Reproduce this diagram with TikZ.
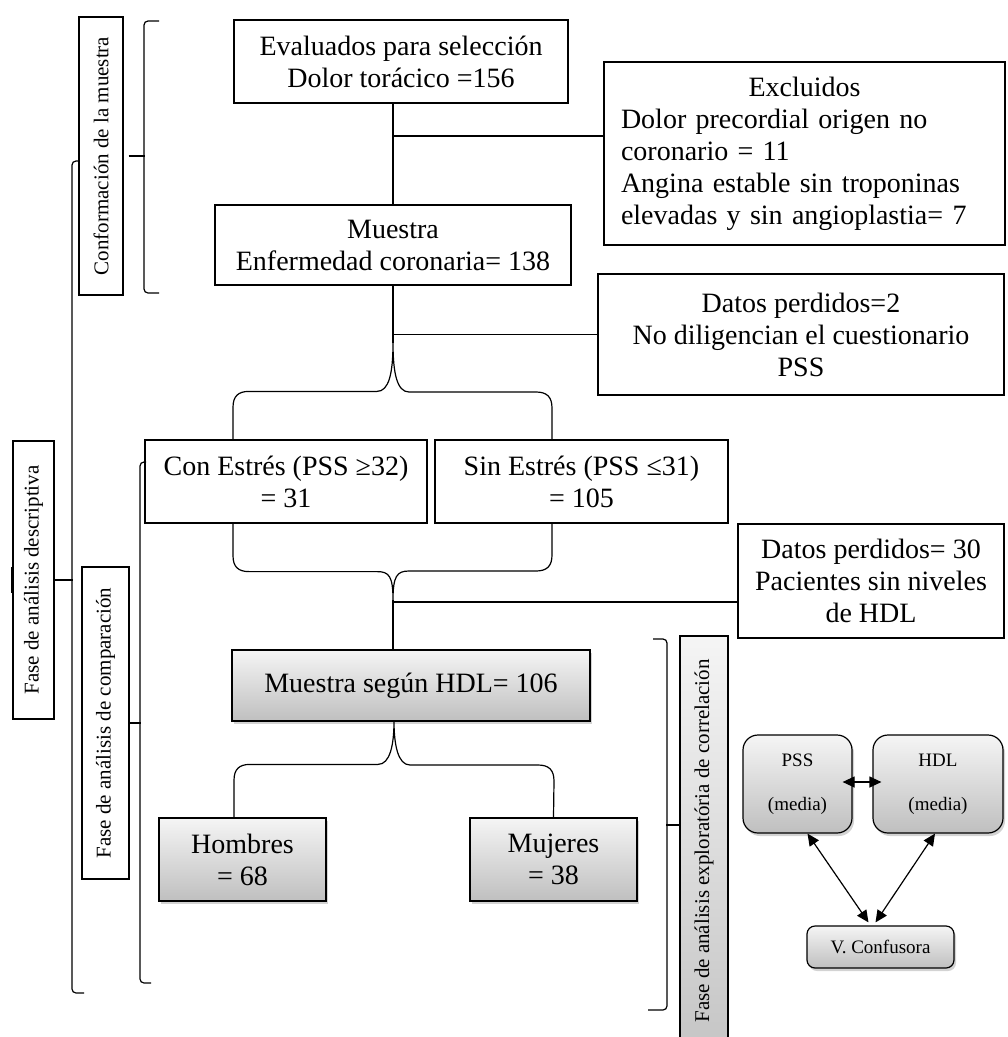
\documentclass[tikz,border=0pt]{standalone}
\usepackage{fontspec}
\setmainfont{Liberation Serif}
\usetikzlibrary{arrows.meta,shadows}

\begin{document}
\begin{tikzpicture}[
  x=1pt, y=-1pt,
  line width=1.2pt,
  >={Triangle[width=11pt,length=12pt]},
  box/.style={draw, align=center, minimum height=83pt, font=\fontsize{28}{32}\selectfont},
  grbox/.style={box, top color=gray!8, bottom color=gray!50,
    drop shadow={shadow xshift=2pt, shadow yshift=-3pt, opacity=0.35}},
  side/.style={draw, rotate=90, font=\fontsize{21}{24}\selectfont},
  rbox/.style={draw, align=center, rounded corners=15pt, top color=gray!8, bottom color=gray!50,
    drop shadow={shadow xshift=2pt, shadow yshift=-3pt, opacity=0.35},
    font=\fontsize{19}{44}\selectfont}
]
\useasboundingbox (0,0) rectangle (1008,1037);

% flow boxes
\node[box, minimum width=334pt] (eval) at (401,61.5) {Evaluados para selección\\Dolor torácico =156};
\node[box, text width=367pt, align=left, inner xsep=17pt, minimum height=183pt] (excl) at (804.5,153.5)
  {\makebox[367pt]{Excluidos}\\Dolor precordial origen no\\coronario = 11\\Angina estable sin troponinas\\elevadas y sin angioplastia= 7};
\node[box, minimum width=356pt, minimum height=80pt] (muestra) at (393,245) {Muestra\\Enfermedad coronaria= 138};
\node[box, minimum width=406pt, minimum height=121pt] (dat2) at (801,334.5) {Datos perdidos=2\\No diligencian el cuestionario\\PSS};
\node[box, minimum width=282pt] (con) at (286,481.5) {Con Estrés (PSS ≥32)\\= 31};
\node[box, minimum width=293pt] (sin) at (581.5,481.5) {Sin Estrés (PSS ≤31)\\= 105};
\node[box, minimum width=266pt, minimum height=114pt] (dat30) at (871,581) {Datos perdidos= 30\\Pacientes sin niveles\\de HDL};
\node[grbox, minimum width=358pt, minimum height=71pt] (hdl) at (411,685.5) {Muestra según HDL= 106};
\node[grbox, minimum width=167pt] (hom) at (242.5,859.5) {Hombres\\= 68};
\node[grbox, minimum width=167pt] (muj) at (553.5,859.5) {Mujeres\\= 38};

% phase labels
\node[side, minimum width=278pt, minimum height=44pt] (conf) at (101,156) {Conformación de la muestra};
\node[side, minimum width=278pt, minimum height=41pt] (desc) at (33.5,580) {Fase de análisis descriptiva};
\node[side, minimum width=312pt, minimum height=47pt] (comp) at (105.5,723) {Fase de análisis de comparación};
\node[side, top color=gray!8, bottom color=gray!45, minimum width=410pt, minimum height=48pt] (corr) at (704,841)
  {Fase de análisis exploratória de correlación};

% correlation model
\node[rbox, minimum width=109pt, minimum height=98pt] (pss) at (797.5,784) {PSS\\(media)};
\node[rbox, minimum width=130pt, minimum height=98pt] (hdlm) at (938,784) {HDL\\(media)};
\node[rbox, rounded corners=8pt, minimum width=147pt, minimum height=42pt, font=\fontsize{19}{22}\selectfont] (vconf) at (880.5,947) {V. Confusora};

% connectors
\coordinate (j1) at (393,136);
\coordinate (c1) at (393,343);
\coordinate (c2) at (393,600);
\coordinate (j3) at (393,602);
\coordinate (c3) at (394,721);

\draw (eval.south -| muestra.north) -- (muestra.north);
\draw (j1) -- (j1 -| excl.west);
\draw (muestra.south) -- (c1);
\draw (muestra.south |- dat2.west) -- (dat2.west);
\draw ([xshift=-53pt]con.north) -- ++(0,-32) .. controls +(0,-11) and +(-11,0) .. ++(16,-16) -- ++(128,0)
  .. controls +(12,0) and +(0,30) .. (c1) .. controls +(0,30) and +(-12,0) .. ++(16,49) -- ++(127,0)
  .. controls +(11,0) and +(0,-11) .. ++(16,16) -- ([xshift=-29.5pt]sin.north);
\draw ([xshift=-53pt]con.south) -- ++(0,32) .. controls +(0,11) and +(-11,0) .. ++(16,16) -- ++(128,0)
  .. controls +(12,0) and +(0,-24) .. (c2) .. controls +(0,-24) and +(-12,0) .. ++(16,-29) -- ++(127,0)
  .. controls +(11,0) and +(0,11) .. ++(16,-16) -- ([xshift=-29.5pt]sin.south);
\draw (c2) -- (c2 |- hdl.north);
\draw (j3) -- (j3 -| dat30.west);
\draw ([xshift=-8.5pt]hom.north) -- ++(0,-37) .. controls +(0,-11) and +(-11,0) .. ++(16,-16) -- ++(128,0)
  .. controls +(12,0) and +(0,24) .. (c3) .. controls +(0,24) and +(-12,0) .. ++(16,44) -- ++(128,0)
  .. controls +(11,0) and +(0,-11) .. ++(16,16) -- (muj.north);

% brackets
\draw[rounded corners=4pt] (159,21) -- (144,21) -- (144,293) -- (159,293);
\draw ([xshift=5pt]conf.south) -- ++(16,0);
\draw[rounded corners=4pt] ([yshift=-5pt]conf.north) -- (72,161) -- (72,993) -- (84,993);
\draw (desc.south) -- ++(18,0);
\draw[line width=2.5pt] ([yshift=13pt]desc.north) -- ([yshift=-13pt]desc.north);
\draw[rounded corners=4pt] (146,462) -- (140,462) -- (140,983) -- (151,983);
\draw (comp.south) -- ++(11,0);
\draw[rounded corners=4pt] (653,639) -- (667,639) -- (667,1010) -- (648,1010);
\draw ([yshift=16pt]corr.north) -- ++(-13,0);

% arrows
\draw[<->] ([xshift=-10pt,yshift=2pt]pss.east) -- ([xshift=9pt,yshift=2pt]hdlm.west);
\draw[<->] ([xshift=10pt]pss.south) -- ([xshift=-12pt,yshift=3pt]vconf.north);
\draw[<->] ([xshift=-3pt]hdlm.south) -- ([xshift=-5pt,yshift=3pt]vconf.north);

\end{tikzpicture}
\end{document}
